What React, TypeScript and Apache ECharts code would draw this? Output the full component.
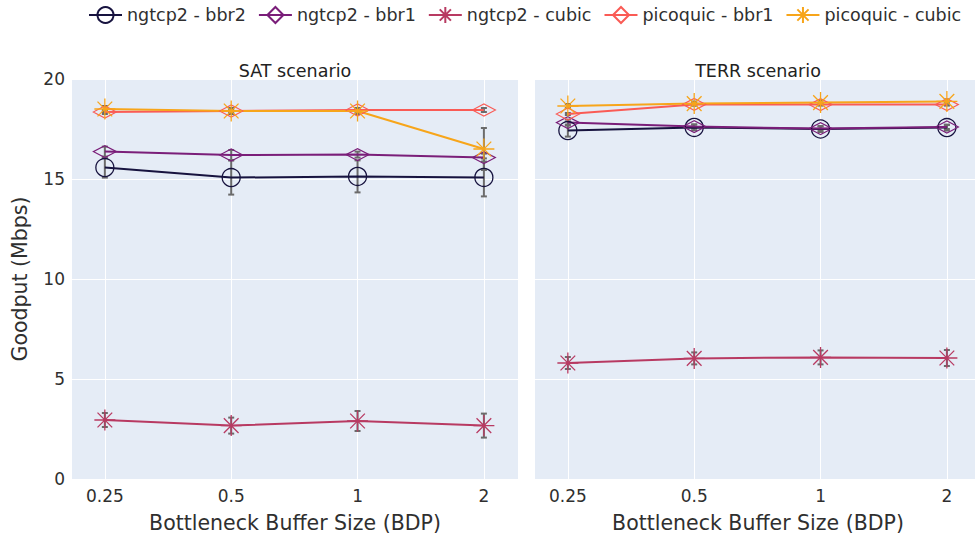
import React, { useEffect, useRef } from "react";
import * as echarts from "echarts";

const categories = ["0.25", "0.5", "1", "2"];
const seriesNames = ["ngtcp2 - bbr2", "ngtcp2 - bbr1", "ngtcp2 - cubic", "picoquic - bbr1", "picoquic - cubic"];
const colors = ["#17133f", "#7a1e79", "#b83a62", "#fa5b55", "#f7a51a"];

// SAT scenario
const satBbr2 = [15.57, 15.07, 15.13, 15.08];
const satBbr1 = [16.37, 16.2, 16.22, 16.07];
const satCubic = [2.95, 2.67, 2.9, 2.67];
const satPqBbr1 = [18.35, 18.4, 18.45, 18.45];
const satPqCubic = [18.5, 18.4, 18.4, 16.5];
const satBbr2Err = [0.5, 0.85, 0.8, 0.95];
const satBbr1Err = [0.25, 0.25, 0.15, 0.2];
const satCubicErr = [0.35, 0.4, 0.5, 0.6];
const satPqBbr1Err = [0.1, 0.1, 0.1, 0.1];
const satPqCubicErr = [0.15, 0.15, 0.15, 1.05];

// TERR scenario
const terrBbr2 = [17.42, 17.58, 17.5, 17.57];
const terrBbr1 = [17.82, 17.62, 17.52, 17.6];
const terrCubic = [5.8, 6.03, 6.08, 6.05];
const terrPqBbr1 = [18.25, 18.73, 18.72, 18.72];
const terrPqCubic = [18.65, 18.77, 18.82, 18.88];
const terrBbr2Err = [0.3, 0.15, 0.15, 0.15];
const terrBbr1Err = [0.15, 0.1, 0.1, 0.1];
const terrCubicErr = [0.3, 0.3, 0.35, 0.4];
const terrPqBbr1Err = [0.05, 0.05, 0.05, 0.05];
const terrPqCubicErr = [0.1, 0.1, 0.1, 0.1];

const yTicks = [0, 5, 10, 15, 20];

const FONT = "DejaVu Sans";
const TEXT = "#2f2f2f";

const CIRCLE = "circle";
const DIAMOND = "path://M0,5L10,0L20,5L10,10Z";
const ASTERISK = "path://M0,10L20,10M10,0L10,20M3,3L17,17M3,17L17,3";
const symbols = [CIRCLE, DIAMOND, ASTERISK, DIAMOND, ASTERISK];
const symbolSizes: any[] = [18, [23, 12], 21, [23, 12], 21];

export default function App() {
  const ref = useRef<HTMLDivElement>(null);
  useEffect(() => {
    if (!ref.current) return;
    const chart = echarts.init(ref.current, undefined, { renderer: "svg" });
    const panels = [
      { vals: [satBbr2, satBbr1, satCubic, satPqBbr1, satPqCubic], errs: [satBbr2Err, satBbr1Err, satCubicErr, satPqBbr1Err, satPqCubicErr] },
      { vals: [terrBbr2, terrBbr1, terrCubic, terrPqBbr1, terrPqCubic], errs: [terrBbr2Err, terrBbr1Err, terrCubicErr, terrPqBbr1Err, terrPqCubicErr] },
    ];
    const series: any[] = [];
    panels.forEach((p, gi) => {
      const errData: any[] = [];
      p.vals.forEach((vals, si) => {
        vals.forEach((v, i) => errData.push([i, v - p.errs[si][i], v + p.errs[si][i]]));
      });
      series.push({
        type: "custom",
        xAxisIndex: gi,
        yAxisIndex: gi,
        z: 2,
        silent: true,
        data: errData,
        encode: { x: 0, y: [1, 2] },
        renderItem: (params: any, api: any) => {
          const x = api.value(0);
          const lo = api.coord([x, api.value(1)]);
          const hi = api.coord([x, api.value(2)]);
          const w = 3;
          const st = { stroke: "#6b6b6b", lineWidth: 2 };
          return {
            type: "group",
            children: [
              { type: "line", shape: { x1: lo[0], y1: lo[1], x2: hi[0], y2: hi[1] }, style: st },
              { type: "line", shape: { x1: lo[0] - w, y1: lo[1], x2: lo[0] + w, y2: lo[1] }, style: st },
              { type: "line", shape: { x1: hi[0] - w, y1: hi[1], x2: hi[0] + w, y2: hi[1] }, style: st },
            ],
          };
        },
      });
      p.vals.forEach((vals, si) => {
        series.push({
          type: "line",
          name: seriesNames[si],
          xAxisIndex: gi,
          yAxisIndex: gi,
          z: 3,
          data: vals.map((v, i) => [i, v]),
          symbol: symbols[si],
          symbolSize: symbolSizes[si],
          showAllSymbol: true,
          lineStyle: { color: colors[si], width: 2 },
          itemStyle: { color: "rgba(0,0,0,0)", borderColor: colors[si], borderWidth: 1.3 },
          emphasis: { disabled: true },
        });
      });
    });

    const xAxisBase = (gi: number) => ({
      type: "value",
      gridIndex: gi,
      min: -0.26,
      max: 3.27,
      name: "Bottleneck Buffer Size (BDP)",
      nameLocation: "middle",
      nameGap: 33,
      nameTextStyle: { fontFamily: FONT, fontSize: 20.5, color: TEXT },
      axisLine: { show: false },
      axisTick: { show: false, customValues: [0, 1, 2, 3] },
      axisLabel: {
        customValues: [0, 1, 2, 3],
        formatter: (v: number) => categories[Math.round(v)],
        fontFamily: FONT,
        fontSize: 17,
        color: TEXT,
        margin: 8,
      },
      splitLine: { show: true, lineStyle: { color: "#ffffff", width: 1 } },
    });
    const yAxisBase = (gi: number) => ({
      type: "value",
      gridIndex: gi,
      min: 0,
      max: 20,
      interval: 5,
      name: gi === 0 ? "Goodput (Mbps)" : "",
      nameLocation: "middle",
      nameGap: 42,
      nameTextStyle: { fontFamily: FONT, fontSize: 20.5, color: TEXT },
      axisLine: { show: false },
      axisTick: { show: false },
      axisLabel: {
        show: gi === 0,
        fontFamily: FONT,
        fontSize: 17,
        color: TEXT,
        margin: 7,
        formatter: (v: number) => (yTicks.includes(v) ? String(v) : ""),
      },
      splitLine: { show: true, lineStyle: { color: "#ffffff", width: 1 } },
    });

    const gridBase = { top: 79, width: 446, height: 400, backgroundColor: "#E5ECF6", show: true, borderWidth: 0, containLabel: false, outerBoundsMode: "none" };

    chart.setOption({
      animation: false,
      textStyle: { fontFamily: FONT },
      title: [
        { text: "SAT scenario", left: 290, top: 57, textAlign: "center", textStyle: { fontFamily: FONT, fontSize: 17.5, fontWeight: "normal", color: "#222" } },
        { text: "TERR scenario", left: 753, top: 57, textAlign: "center", textStyle: { fontFamily: FONT, fontSize: 17.5, fontWeight: "normal", color: "#222" } },
      ],
      legend: {
        data: seriesNames,
        top: 6,
        left: 88,
        width: 885,
        padding: 0,
        itemWidth: 33,
        itemHeight: 20,
        itemGap: 12,
        textStyle: { fontFamily: FONT, fontSize: 17.5, color: TEXT },
      },
      grid: [
        { ...gridBase, left: 72 },
        { ...gridBase, left: 535 },
      ],
      xAxis: [xAxisBase(0), xAxisBase(1)],
      yAxis: [yAxisBase(0), yAxisBase(1)],
      series,
    });
    return () => chart.dispose();
  }, []);
  return (
    <div style={{ position: "absolute", left: 0, top: 0, width: 975, height: 534, background: "#fff", overflow: "hidden" }}>
      <div ref={ref} style={{ width: 975, height: 534 }} />
    </div>
  );
}
